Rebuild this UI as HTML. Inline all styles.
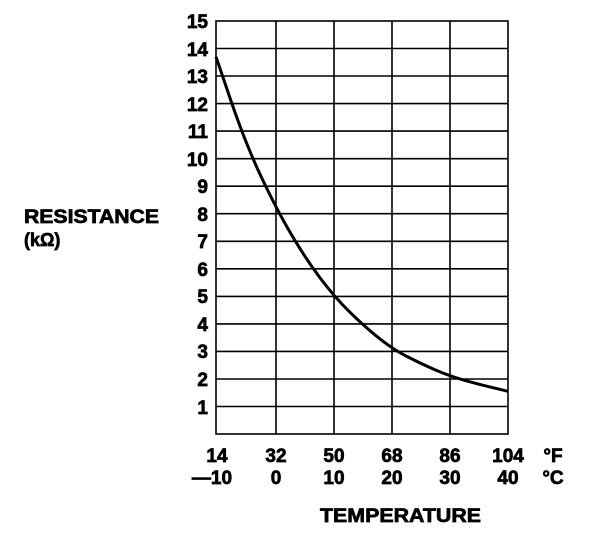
<!DOCTYPE html>
<html><head><style>body{margin:0;background:#fff}</style></head><body>
<svg width="608" height="536" viewBox="0 0 608 536" xmlns="http://www.w3.org/2000/svg" font-family="Liberation Sans, sans-serif" font-weight="bold">
<g stroke="#000" stroke-width="1.6" fill="none">
<rect x="216" y="21" width="292" height="413"/>
<line x1="276" y1="21" x2="276" y2="434"/><line x1="334" y1="21" x2="334" y2="434"/>
<line x1="392" y1="21" x2="392" y2="434"/><line x1="450" y1="21" x2="450" y2="434"/>
<line x1="216" y1="48.5" x2="508" y2="48.5"/><line x1="216" y1="76" x2="508" y2="76"/>
<line x1="216" y1="103.6" x2="508" y2="103.6"/><line x1="216" y1="131.1" x2="508" y2="131.1"/>
<line x1="216" y1="158.7" x2="508" y2="158.7"/><line x1="216" y1="186.2" x2="508" y2="186.2"/>
<line x1="216" y1="213.7" x2="508" y2="213.7"/><line x1="216" y1="241.3" x2="508" y2="241.3"/>
<line x1="216" y1="268.8" x2="508" y2="268.8"/><line x1="216" y1="296.4" x2="508" y2="296.4"/>
<line x1="216" y1="323.9" x2="508" y2="323.9"/><line x1="216" y1="351.4" x2="508" y2="351.4"/>
<line x1="216" y1="379" x2="508" y2="379"/><line x1="216" y1="406.5" x2="508" y2="406.5"/>
<path stroke-width="3" d="M216,56.8 L230.5,99.5 Q245,142.2 260.5,175.25 Q276,208.3 290.5,233.05 Q305,257.8 319.5,277.1 Q334,296.4 348.5,310.8 Q363,325.2 377.5,336.95 Q392,348.7 406.5,356.25 Q421,363.8 435.5,370 Q450,376.2 464.5,380.3 Q479,384.4 493.5,387.85 L508,391.3"/>
</g>
<g stroke="#000" stroke-width="0.7">
<g font-size="19" text-anchor="end">
<text x="208" y="28">15</text><text x="208" y="56">14</text><text x="208" y="83">13</text>
<text x="208" y="111">12</text><text x="208" y="138">11</text><text x="208" y="166">10</text>
<text x="208" y="193">9</text><text x="208" y="221">8</text><text x="208" y="248">7</text>
<text x="208" y="276">6</text><text x="208" y="303">5</text><text x="208" y="331">4</text>
<text x="208" y="358">3</text><text x="208" y="386">2</text><text x="208" y="414">1</text>
</g>
<g font-size="19" text-anchor="middle">
<text x="217" y="462">14</text><text x="276" y="462">32</text><text x="334" y="462">50</text>
<text x="392" y="462">68</text><text x="450" y="462">86</text><text x="508" y="462">104</text>
<text x="553" y="462">°F</text>
<text x="212" y="484">—10</text><text x="276" y="484">0</text><text x="334" y="484">10</text>
<text x="392" y="484">20</text><text x="450" y="484">30</text><text x="508" y="484">40</text>
<text x="553" y="484">°C</text>
</g>
<text x="320" y="522" font-size="19" textLength="161" lengthAdjust="spacingAndGlyphs">TEMPERATURE</text>
<text x="24" y="223" font-size="19" textLength="135" lengthAdjust="spacingAndGlyphs">RESISTANCE</text>
<text x="24" y="246" font-size="18">(kΩ)</text>
</g>
</svg>
</body></html>
